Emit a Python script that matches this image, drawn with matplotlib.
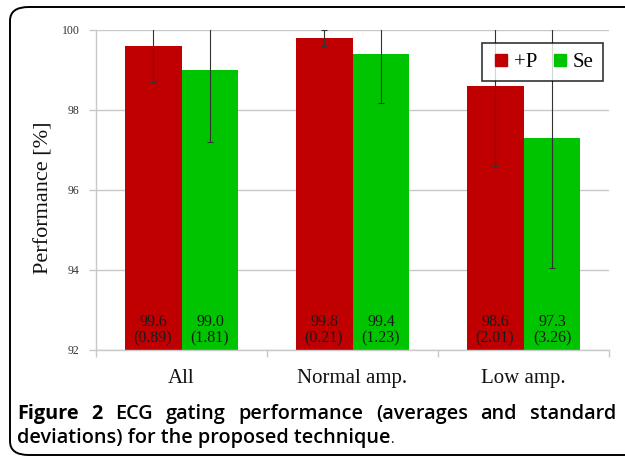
import matplotlib
matplotlib.use("Agg")
import matplotlib.pyplot as plt
from matplotlib.patches import FancyBboxPatch
from matplotlib.lines import Line2D
import numpy as np

categories = ["All", "Normal amp.", "Low amp."]
series_names = ["+P", "Se"]
plus_p = [99.6, 99.8, 98.6]
plus_p_sd = [0.89, 0.21, 2.01]
se = [99.0, 99.4, 97.3]
se_sd = [1.81, 1.23, 3.26]
yticks = [92, 94, 96, 98, 100]
caption_line1 = "Figure 2 ECG gating performance (averages and standard"
caption_line2 = "deviations) for the proposed technique"

W, H = 625, 458
fig = plt.figure(figsize=(W / 100, H / 100), dpi=100)

def fx(px):
    return px / W

def fy(py):
    return 1 - py / H

# outer rounded frame
frame = FancyBboxPatch((fx(10), fy(455)), fx(700) - fx(10), fy(7) - fy(455),
                       boxstyle="round,pad=0,rounding_size=0.03",
                       transform=fig.transFigure, fill=False, ec="black", lw=1.4,
                       clip_on=False)
fig.patches.append(frame)

ax_l, ax_r = 96, 609
ax = fig.add_axes([fx(ax_l), fy(350), fx(ax_r) - fx(ax_l), fy(30) - fy(350)])
serif = "Liberation Serif"
red = "#c00000"
green = "#00c400"
grid_c = "#c8c8c8"

x = np.arange(len(categories))
w = 0.333
ax.bar(x - w / 2, np.array(plus_p) - 92, w, bottom=92, color=red, zorder=2)
ax.bar(x + w / 2, np.array(se) - 92, w, bottom=92, color=green, zorder=2)
ax.errorbar(x - w / 2, plus_p, yerr=plus_p_sd, fmt="none", ecolor="#333333",
            elinewidth=0.8, capsize=2.5, capthick=0.8, zorder=3)
ax.errorbar(x + w / 2, se, yerr=se_sd, fmt="none", ecolor="#333333",
            elinewidth=0.8, capsize=2.5, capthick=0.8, zorder=3)

for xi, v, s in zip(x - w / 2, plus_p, plus_p_sd):
    ax.text(xi, 92.1, f"{v:.1f}\n({s:.2f})", ha="center", va="bottom",
            family=serif, fontsize=11.5, color="#1a1a1a", linespacing=1.0, zorder=4)
for xi, v, s in zip(x + w / 2, se, se_sd):
    ax.text(xi, 92.1, f"{v:.1f}\n({s:.2f})", ha="center", va="bottom",
            family=serif, fontsize=11.5, color="#1a1a1a", linespacing=1.0, zorder=4)

ax.set_xlim(-0.5, 2.5)
ax.set_ylim(92, 100)
ax.set_yticks(yticks)
ax.set_yticklabels([str(t) for t in yticks], family=serif, fontsize=8.5, color="#333333")
ax.yaxis.grid(True, color=grid_c, lw=1, zorder=0)
ax.set_axisbelow(True)
ax.set_xticks(x)
ax.set_xticklabels(categories, family=serif, fontsize=15, color="#111111")
ax.tick_params(axis="x", length=0, pad=14)
ax.set_xticks([-0.5, 0.5, 1.5, 2.5], minor=True)
ax.tick_params(axis="x", which="minor", length=5, color=grid_c, width=1)
ax.tick_params(axis="y", length=5, color=grid_c, width=1, pad=7)
for sp in ["top", "right"]:
    ax.spines[sp].set_visible(False)
for sp in ["left", "bottom"]:
    ax.spines[sp].set_color(grid_c)
    ax.spines[sp].set_linewidth(1)
ax.set_ylabel("Performance [%]", family=serif, fontsize=16, color="#111111")
ax.yaxis.set_label_coords((54 - ax_l) / (ax_r - ax_l), 0.475)

handles = [Line2D([], [], marker="s", ls="none", color=red, markersize=8),
           Line2D([], [], marker="s", ls="none", color=green, markersize=8)]
leg = ax.legend(handles, series_names, loc="upper right",
                bbox_to_anchor=(fx(603), fy(43)), bbox_transform=fig.transFigure,
                ncol=2, prop={"family": serif, "size": 15}, frameon=True,
                fancybox=False, handletextpad=0.1, columnspacing=0.6,
                handlelength=1.0, borderpad=0.45, borderaxespad=0)
leg.get_frame().set_edgecolor("black")
leg.get_frame().set_linewidth(1.2)

# caption, justified first line
cap_font = dict(family="Open Sans", fontsize=14.3, fontweight=600, color="black")
fig.canvas.draw()
renderer = fig.canvas.get_renderer()
words = caption_line1.split(" ")
texts = []
for i, wd in enumerate(words):
    kw = dict(cap_font)
    if i < 2:
        kw["fontweight"] = "bold"
    texts.append(fig.text(0, fy(419), wd, ha="left", va="baseline", **kw))
widths = [t.get_window_extent(renderer).width for t in texts]
left, right = 17, 616
gap = (right - left - sum(widths)) / (len(words) - 1)
pos = left
for t, wdt in zip(texts, widths):
    t.set_x(fx(pos))
    pos += wdt + gap
t2 = fig.text(fx(17), fy(443), caption_line2, ha="left", va="baseline", **cap_font)
fig.canvas.draw()
ext = t2.get_window_extent(renderer)
fig.text(fx(ext.x1 + 1), fy(443), ".", ha="left", va="baseline",
         family="Open Sans", fontsize=10, color="black")

fig.savefig("out.png", dpi=100)
